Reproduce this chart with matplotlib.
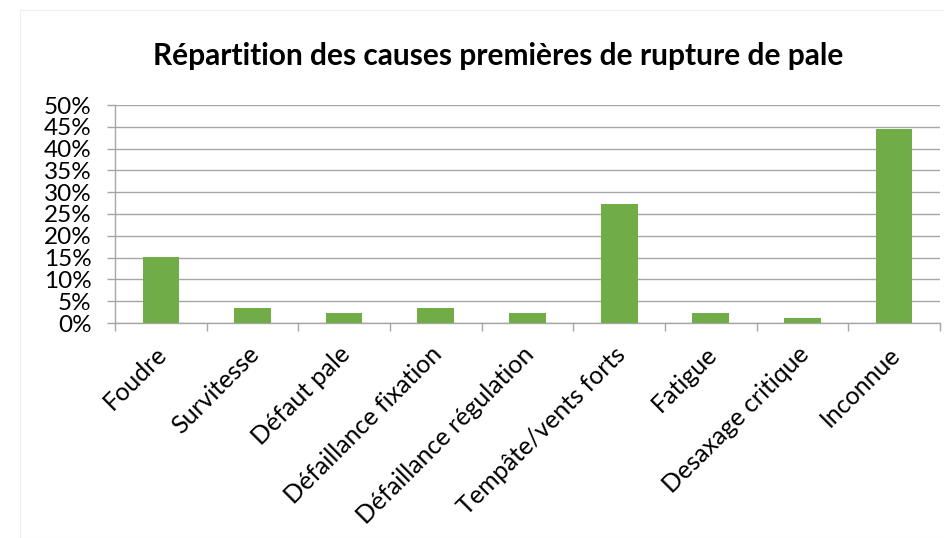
import matplotlib
matplotlib.use("Agg")
import matplotlib.pyplot as plt
from matplotlib.ticker import FixedLocator, NullFormatter, FuncFormatter
from matplotlib.patches import Rectangle

categories = ["Foudre", "Survitesse", "Défaut pale", "Défaillance fixation",
              "Défaillance régulation", "Tempâte/vents forts", "Fatigue",
              "Desaxage critique", "Inconnue"]
values = [15.2, 3.4, 2.3, 3.4, 2.3, 27.2, 2.3, 1.1, 44.6]
yticks = [0, 5, 10, 15, 20, 25, 30, 35, 40, 45, 50]

plt.rcParams['font.family'] = ['Lato', 'DejaVu Sans']

fig = plt.figure(figsize=(9.44, 5.38), dpi=100)
fig.patches.append(Rectangle((20/944, 0), 1 - 20/944, 1 - 10/538, transform=fig.transFigure,
                             fill=False, edgecolor='#eeeeee', linewidth=0.8))
ax = fig.add_axes([115/944, 1 - 323/538, (940 - 115)/944, (323 - 105)/538])

x = list(range(len(categories)))
ax.bar(x, values, width=0.4, color='#70AD47', zorder=3)
ax.set_xlim(-0.5, len(categories) - 0.5)
ax.set_ylim(0, 50)
ax.set_yticks(yticks)
ax.yaxis.set_major_formatter(FuncFormatter(lambda v, p: f"{int(v)}%"))
ax.yaxis.grid(True, color='#a6a6a6', linewidth=1, zorder=0)

ax.xaxis.set_major_locator(FixedLocator([i - 0.5 for i in range(len(categories) + 1)]))
ax.xaxis.set_major_formatter(NullFormatter())
ax.tick_params(axis='x', which='major', length=6, color='#a6a6a6', width=1)
ax.tick_params(axis='y', length=6, color='#a6a6a6', width=1, labelsize=17.5, pad=11)

for i, cat in enumerate(categories):
    ax.annotate(cat, xy=(i, 0), xycoords=('data', 'axes fraction'),
                xytext=(-4, -14), textcoords='offset points',
                rotation=45, ha='right', va='top', rotation_mode='anchor',
                fontsize=18, annotation_clip=False)

for s in ['top', 'right']:
    ax.spines[s].set_visible(False)
for s in ['left', 'bottom']:
    ax.spines[s].set_color('#a6a6a6')
    ax.spines[s].set_linewidth(1)

fig.text(498/944, 1 - 56/538, "Répartition des causes premières de rupture de pale",
         ha='center', va='center', fontsize=21.5, fontweight='bold')

fig.savefig("out.png", dpi=100)
